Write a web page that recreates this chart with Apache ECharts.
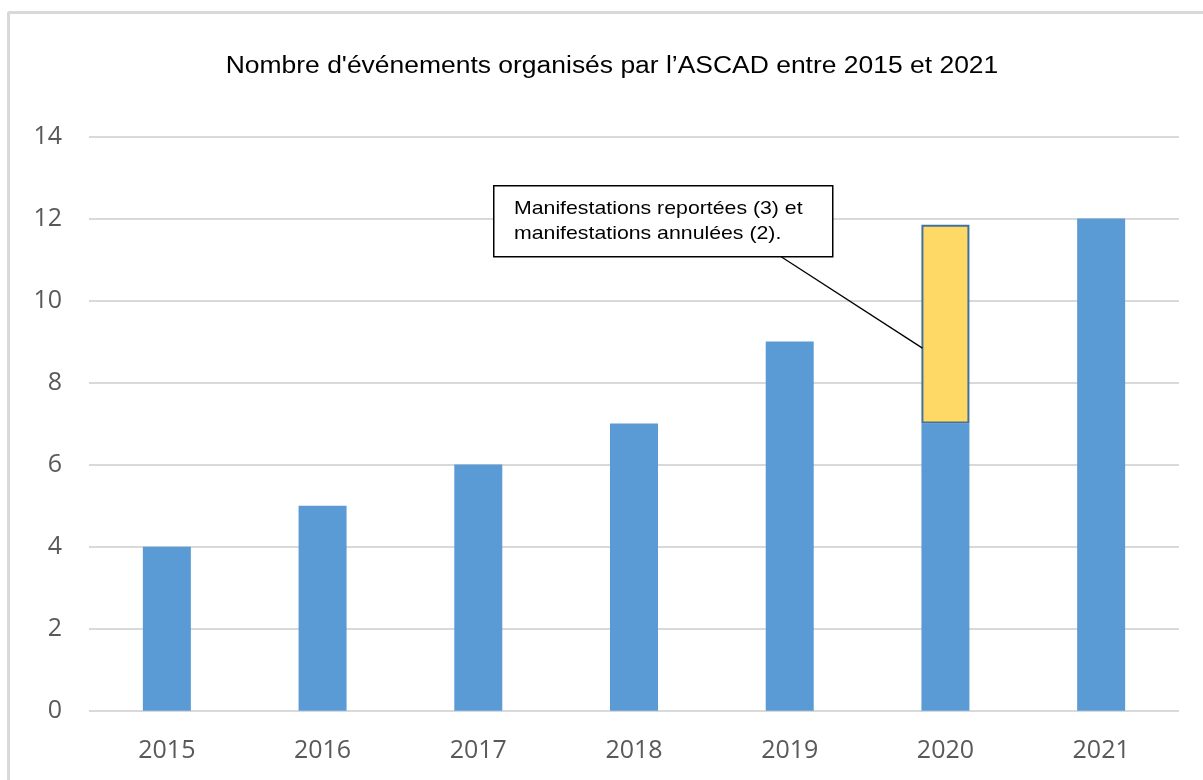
<!DOCTYPE html>
<html>
<head>
<meta charset="utf-8">
<title>ASCAD</title>
<script src="https://cdn.jsdelivr.net/npm/echarts@6/dist/echarts.min.js"></script>
<style>
html,body{margin:0;padding:0;background:#fff;}
#chart{width:1203px;height:780px;}
</style>
</head>
<body>
<div id="chart"></div>
<script>
var years = ['2015', '2016', '2017', '2018', '2019', '2020', '2021'];
var organises = [4, 5, 6, 7, 9, 7, 12];
var reportesAnnules = ['-', '-', '-', '-', '-', 4.85, '-'];
var yTicks = [0, 2, 4, 6, 8, 10, 12, 14];
var titre = "Nombre d'événements organisés par l’ASCAD entre 2015 et 2021";
var note = 'Manifestations reportées (3) et\nmanifestations annulées (2).';

var myChart = echarts.init(document.getElementById('chart'));

var option = {
    animation: false,
    grid: { left: 89, right: 24, top: 136.5, bottom: 69.3, containLabel: false, outerBoundsMode: 'none' },
    xAxis: {
        type: 'category',
        data: years,
        axisLine: { show: false },
        axisTick: { show: false },
        axisLabel: { margin: 28, fontFamily: 'Open Sans', fontSize: 25, color: '#595959' }
    },
    yAxis: {
        type: 'value',
        min: yTicks[0],
        max: yTicks[yTicks.length - 1],
        interval: 2,
        axisLine: { show: false },
        axisTick: { show: false },
        axisLabel: { margin: 27, fontFamily: 'Open Sans', fontSize: 25, color: '#595959' },
        splitLine: { lineStyle: { color: '#d9d9d9', width: 2 } }
    },
    series: [
        {
            name: 'organisés',
            type: 'bar',
            stack: 'total',
            barWidth: 48,
            data: organises,
            itemStyle: { color: '#5b9bd5' }
        },
        {
            name: 'reportés / annulés',
            type: 'bar',
            stack: 'total',
            barWidth: 48,
            data: reportesAnnules,
            itemStyle: { color: '#ffd966', borderColor: '#41719c', borderWidth: 2 }
        }
    ]
};
myChart.setOption(option);

// trait de l'annotation vers la barre 2020
var p = myChart.convertToPixel({ gridIndex: 0 }, ['2020', 8.84]);
myChart.setOption({
    graphic: [
        { type: 'line', shape: { x1: 8, y1: 12.5, x2: 1203, y2: 12.5 }, style: { stroke: '#d9d9d9', lineWidth: 3 } },
        { type: 'line', shape: { x1: 8.5, y1: 12, x2: 8.5, y2: 780 }, style: { stroke: '#d9d9d9', lineWidth: 3 } },
        {
            type: 'text', x: 612, y: 67, scaleX: 1.15,
            style: { text: titre, align: 'center', verticalAlign: 'middle', fontFamily: 'Liberation Sans', fontSize: 23, fill: '#000' }
        },
        { type: 'line', shape: { x1: 780, y1: 256, x2: p[0] - 23, y2: p[1] }, style: { stroke: '#000', lineWidth: 1.3 }, z: 10 },
        {
            type: 'rect', left: 493, top: 185, z: 11,
            shape: { width: 339, height: 71 },
            style: { fill: '#fff', stroke: '#000', lineWidth: 1.5 }
        },
        {
            type: 'text', x: 514, y: 196, scaleX: 1.12, z: 12,
            style: { text: note, fontFamily: 'Liberation Sans', fontSize: 19, lineHeight: 25, fill: '#000' }
        }
    ]
});
</script>
</body>
</html>
